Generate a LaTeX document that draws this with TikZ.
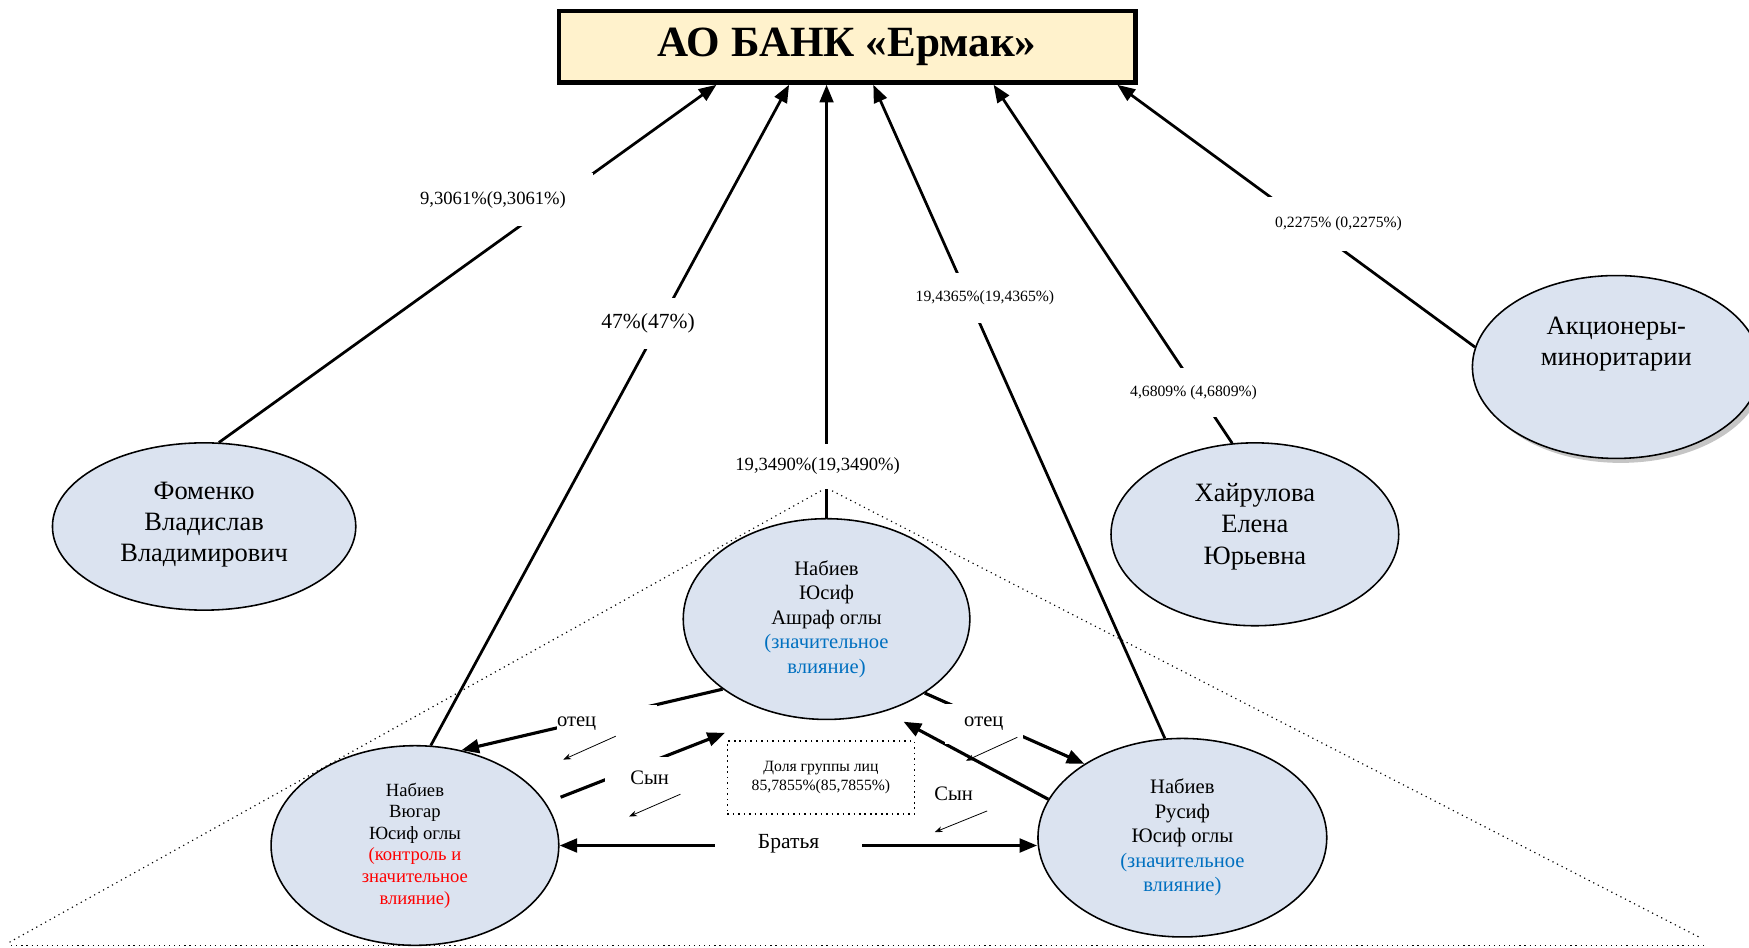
\documentclass[tikz,border=0pt]{standalone}
\usepackage{fontspec}
\setmainfont{Liberation Serif}
\usepackage{xcolor}
\usepackage{tikz}
\usetikzlibrary{backgrounds,calc,shapes.geometric,arrows.meta,shadows}

\definecolor{bankfill}{RGB}{255,242,204}
\definecolor{personfill}{RGB}{219,227,240}
\definecolor{infblue}{RGB}{0,112,192}
\definecolor{ctrlred}{RGB}{255,0,0}

\begin{document}
\begin{tikzpicture}[x=0.02cm,y=-0.02cm,>={Triangle[length=9pt,width=7pt]},
  person/.style={ellipse,draw,line width=0.8pt,fill=personfill,align=center,inner sep=0pt},
  share/.style={fill=white,inner sep=0pt},
  own/.style={line width=1.4pt,->},
  kin/.style={line width=1.6pt},
  hint/.style={line width=0.4pt,-{Stealth[length=4pt,width=3pt]}}]
\useasboundingbox (0,0) rectangle (1568,849);

\node [draw,line width=2.3pt,fill=bankfill,minimum width=10.34cm,minimum height=1.28cm,font=\fontsize{22}{26}\selectfont\bfseries] (bank) at (759.5,42) {АО БАНК «Ермак»};

\node [person,minimum width=5.44cm,minimum height=3cm,text depth=0.17cm,font=\fontsize{13.5}{16}\selectfont] (fomenko) at (183,472) {Фоменко\\Владислав\\Владимирович};
\node [person,minimum width=5.16cm,minimum height=3.28cm,text depth=0.38cm,font=\fontsize{13.5}{16}\selectfont] (khair) at (1125,479) {Хайрулова\\Елена\\Юрьевна};
\node [person,drop shadow={shadow xshift=0.08cm,shadow yshift=-0.08cm,fill=black!45},minimum width=5.16cm,minimum height=3.28cm,text depth=0.92cm,font=\fontsize{13.5}{16}\selectfont] (minor) at (1449,329) {Акционеры-\\миноритарии};

\node [person,minimum width=5.14cm,minimum height=3.6cm,font=\fontsize{10.5}{12.5}\selectfont] (yusif) at (741,555) {Набиев\\Юсиф\\Ашраф оглы\\\textcolor{infblue}{(значительное}\\\textcolor{infblue}{влияние)}};
\node [person,minimum width=5.16cm,minimum height=3.58cm,font=\fontsize{9.5}{11}\selectfont] (vugar) at (372,758) {Набиев\\Вюгар\\Юсиф оглы\\\textcolor{ctrlred}{(контроль и}\\\textcolor{ctrlred}{значительное}\\\textcolor{ctrlred}{влияние)}};
\node [person,minimum width=5.18cm,minimum height=3.56cm,font=\fontsize{10.5}{12.5}\selectfont] (rusif) at (1060,751) {Набиев\\Русиф\\Юсиф оглы\\\textcolor{infblue}{(значительное}\\\textcolor{infblue}{влияние)}};

\node [draw,dotted,line width=0.8pt,minimum width=3.36cm,minimum height=1.3cm,align=center,font=\fontsize{8}{9.6}\selectfont] (group) at (736,697) {Доля группы лиц\\85,7855\%(85,7855\%)};

\begin{scope}[on background layer]
\draw [dotted,line width=0.6pt] (736,440) -- (8,845);
\draw [dotted,line width=0.6pt] (746,440) -- (1525,841);
\draw [dotted,line width=0.6pt] (10,848) -- (1528,848);
\end{scope}

\coordinate (in1) at ($(bank.south west)!0.275!(bank.south east)$);
\coordinate (in2) at ($(bank.south west)!0.40!(bank.south east)$);
\coordinate (in4) at ($(bank.south west)!0.545!(bank.south east)$);
\coordinate (in5) at ($(bank.south west)!0.752!(bank.south east)$);
\coordinate (in6) at ($(bank.south west)!0.965!(bank.south east)$);
\draw [own] (fomenko.80) -- (in1);
\draw [own] (vugar.81) -- (in2);
\draw [own] (yusif.north) -- (yusif.north |- bank.south);
\draw [own] (rusif.100) -- (in4);
\draw [own] (khair.104) -- (in5);
\draw [own] (minor.172) -- (in6);

\node [share,minimum width=3.6cm,minimum height=0.96cm,font=\fontsize{9.5}{11}\selectfont] (sfom) at (442,179) {9,3061\%(9,3061\%)};
\node [share,minimum width=1.8cm,minimum height=0.9cm,font=\fontsize{11}{13}\selectfont] (svug) at (581,290) {47\%(47\%)};
\node [share,minimum height=0.8cm,font=\fontsize{9.5}{11}\selectfont] (syus) at (733,418) {19,3490\%(19,3490\%)};
\node [share,minimum height=0.9cm,font=\fontsize{8}{10}\selectfont] (srus) at (883,267) {19,4365\%(19,4365\%)};
\node [share,minimum height=0.88cm,font=\fontsize{8}{10}\selectfont] (skha) at (1070,352) {4,6809\% (4,6809\%)};
\node [share,minimum width=2.6cm,minimum height=0.96cm,font=\fontsize{8}{10}\selectfont] (smin) at (1200,201) {0,2275\% (0,2275\%)};

\coordinate (sonL) at (650,657);
\coordinate (sonR) at (810,647);
\draw [kin,->] (yusif.214) -- (vugar.64);
\draw [kin,->,shorten <=8pt] (vugar.18) -- (sonL);
\draw [kin,->] (yusif.-37) -- (rusif.143);
\draw [kin,->] (rusif.164) -- (sonR);
\draw [kin,<->] (vugar.east) -- (vugar.east -| rusif.west);

\node [share,anchor=west,text width=1.8cm,minimum height=0.68cm,align=left,font=\fontsize{10.5}{12}\selectfont] (fatherL) at (499,649) {отец};
\node [share,anchor=east,text width=1.14cm,minimum height=0.72cm,align=right,font=\fontsize{10.5}{12}\selectfont] (sonLl) at (600,697) {Сын};
\node [share,minimum width=1.4cm,minimum height=0.72cm,font=\fontsize{10.5}{12}\selectfont] (fatherR) at (882,649) {отец};
\node [share,font=\fontsize{10.5}{12}\selectfont] (sonRl) at (855,712) {Сын};
\node [share,minimum width=2.64cm,minimum height=0.6cm,font=\fontsize{11}{13}\selectfont] (bros) at (707,756) {Братья};

\draw [hint] (552,660) -- (505,681);
\draw [hint] (610,712) -- (564,732);
\draw [hint] (912,661) -- (866,682);
\draw [hint] (885,727) -- (838,746);
\end{tikzpicture}
\end{document}
